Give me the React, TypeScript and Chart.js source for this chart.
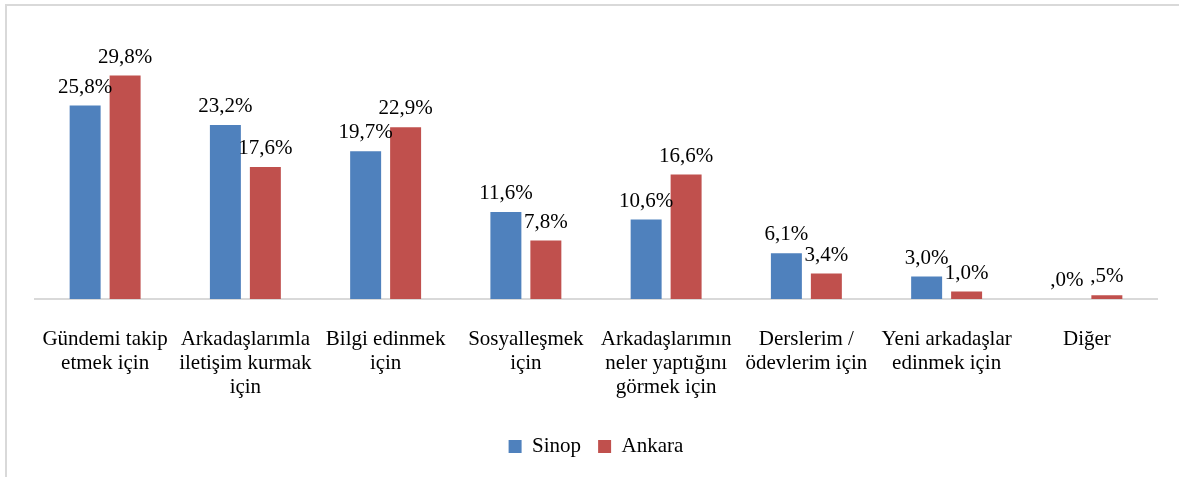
import React, { useEffect, useRef } from "react";
import { Chart, registerables } from "chart.js";

Chart.register(...registerables);

const categories: string[][] = [
  ["Gündemi takip", "etmek için"],
  ["Arkadaşlarımla", "iletişim kurmak", "için"],
  ["Bilgi edinmek", "için"],
  ["Sosyalleşmek", "için"],
  ["Arkadaşlarımın", "neler yaptığını", "görmek için"],
  ["Derslerim /", "ödevlerim için"],
  ["Yeni arkadaşlar", "edinmek için"],
  ["Diğer"],
];
const sinopValues = [25.8, 23.2, 19.7, 11.6, 10.6, 6.1, 3.0, 0.0];
const ankaraValues = [29.8, 17.6, 22.9, 7.8, 16.6, 3.4, 1.0, 0.5];
const seriesNames = ["Sinop", "Ankara"];
const seriesColors = ["#4F81BD", "#C0504D"];

const FONT = "'Liberation Serif', 'Times New Roman', serif";

function fmt(v: number): string {
  const s = v.toFixed(1).replace(".", ",");
  return (v < 1 ? s.replace(/^0/, "") : s) + "%";
}

const labelPlugin = {
  id: "valueLabels",
  afterDatasetsDraw(chart: any) {
    const ctx = chart.ctx;
    ctx.save();
    ctx.font = `21px ${FONT}`;
    ctx.fillStyle = "#000";
    ctx.textAlign = "center";
    ctx.textBaseline = "alphabetic";
    chart.data.datasets.forEach((ds: any, di: number) => {
      const meta = chart.getDatasetMeta(di);
      meta.data.forEach((bar: any, i: number) => {
        ctx.fillText(fmt(ds.data[i]), bar.x, bar.y - 13);
      });
    });
    ctx.restore();
  },
};

export default function App() {
  const ref = useRef<HTMLCanvasElement | null>(null);
  useEffect(() => {
    if (!ref.current) return;
    const chart = new Chart(ref.current, {
      type: "bar",
      data: {
        labels: categories,
        datasets: [
          {
            label: seriesNames[0],
            data: sinopValues,
            backgroundColor: seriesColors[0],
            barPercentage: 0.775,
            categoryPercentage: 0.57,
          },
          {
            label: seriesNames[1],
            data: ankaraValues,
            backgroundColor: seriesColors[1],
            barPercentage: 0.775,
            categoryPercentage: 0.57,
          },
        ],
      },
      options: {
        responsive: false,
        animation: false,
        devicePixelRatio: 1,
        layout: { padding: { left: 35, right: 22, top: 36.5, bottom: 10 } },
        scales: {
          x: {
            grid: { display: false, drawTicks: false },
            border: { display: true, color: "#d9d9d9", width: 2 },
            ticks: {
              color: "#000",
              font: { family: FONT, size: 21, lineHeight: 24 / 21 },
              padding: 28,
              maxRotation: 0,
              autoSkip: false,
            },
            afterFit: (scale: any) => {
              scale.height = 120;
            },
          },
          y: {
            display: false,
            min: 0,
            max: 35,
          },
        },
        plugins: {
          legend: {
            position: "bottom",
            labels: {
              boxWidth: 13,
              boxHeight: 13,
              padding: 17,
              color: "#000",
              font: { family: FONT, size: 21 },
            },
          },
          tooltip: { enabled: false },
        },
      },
      plugins: [labelPlugin],
    });
    return () => chart.destroy();
  }, []);

  return (
    <div style={{ position: "fixed", left: 0, top: 0, width: 1179, height: 477, background: "#fff" }}>
      <div
        style={{
          position: "absolute",
          left: 5,
          top: 4,
          width: 1200,
          height: 500,
          borderTop: "2px solid #d9d9d9",
          borderLeft: "2px solid #d9d9d9",
        }}
      />
      <canvas ref={ref} width={1179} height={477} style={{ position: "absolute", left: 0, top: 0 }} />
    </div>
  );
}
